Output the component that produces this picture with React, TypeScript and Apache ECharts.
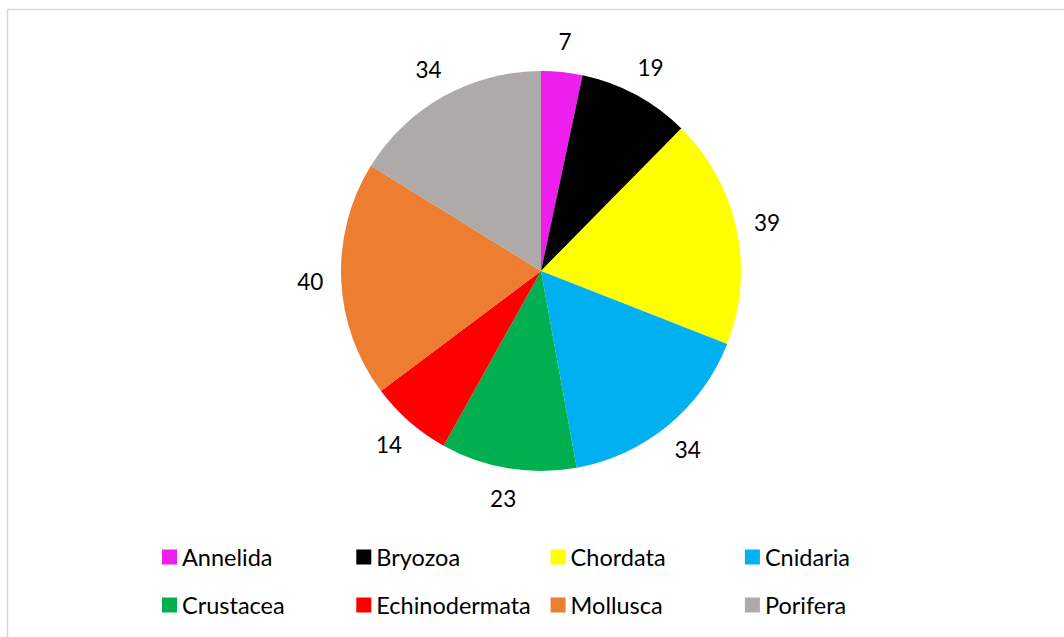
import React, { useEffect, useRef } from "react";
import * as echarts from "echarts";

const categories = ["Annelida", "Bryozoa", "Chordata", "Cnidaria", "Crustacea", "Echinodermata", "Mollusca", "Porifera"];
const values = [7, 19, 39, 34, 23, 14, 40, 34];
const colors = ["#EE1EEE", "#000000", "#FFFF00", "#00B0F0", "#00B050", "#FF0000", "#ED7D31", "#AEAAAA"];

const FONT = "Lato, 'Open Sans', sans-serif";

export default function App() {
  const ref = useRef<HTMLDivElement>(null);
  useEffect(() => {
    document.body.style.margin = "0";
    const chart = echarts.init(ref.current!, null, { renderer: "svg" });
    const data = categories.map((name, i) => ({ name, value: values[i], itemStyle: { color: colors[i] } }));
    const legends = categories.map((name, i) => ({
      data: [name],
      left: 162 + (i % 4) * 194.3,
      top: 545 + Math.floor(i / 4) * 48,
      itemWidth: 15,
      itemHeight: 15,
      icon: "rect",
      padding: 0,
      itemGap: 0,
      selectedMode: false,
      textStyle: { fontSize: 23.5, color: "#000", fontFamily: FONT },
    }));
    chart.setOption({
      animation: false,
      backgroundColor: "#fff",
      color: colors,
      legend: legends,
      graphic: [
        {
          type: "rect",
          shape: { x: 7.5, y: 9.5, width: 1200, height: 800 },
          style: { fill: "none", stroke: "#D9D9D9", lineWidth: 1.5 },
          silent: true,
        },
      ],
      series: [
        {
          type: "pie",
          center: [541, 271],
          radius: [0, 200],
          startAngle: 90,
          clockwise: true,
          data,
          label: { show: false },
          labelLine: { show: false },
          emphasis: { disabled: true },
        },
        {
          type: "pie",
          center: [541, 271],
          radius: [218, 238],
          startAngle: 90,
          clockwise: true,
          silent: true,
          data: categories.map((name, i) => ({ name, value: values[i], itemStyle: { color: "rgba(0,0,0,0)" } })),
          itemStyle: { color: "rgba(0,0,0,0)" },
          label: {
            show: true,
            position: "inside",
            rotate: 0,
            formatter: "{c}",
            fontSize: 22.5,
            color: "#000",
            fontFamily: FONT,
          },
          labelLine: { show: false },
          emphasis: { disabled: true },
        },
      ],
    });
    return () => chart.dispose();
  }, []);
  return <div ref={ref} style={{ width: 1064, height: 637 }} />;
}
